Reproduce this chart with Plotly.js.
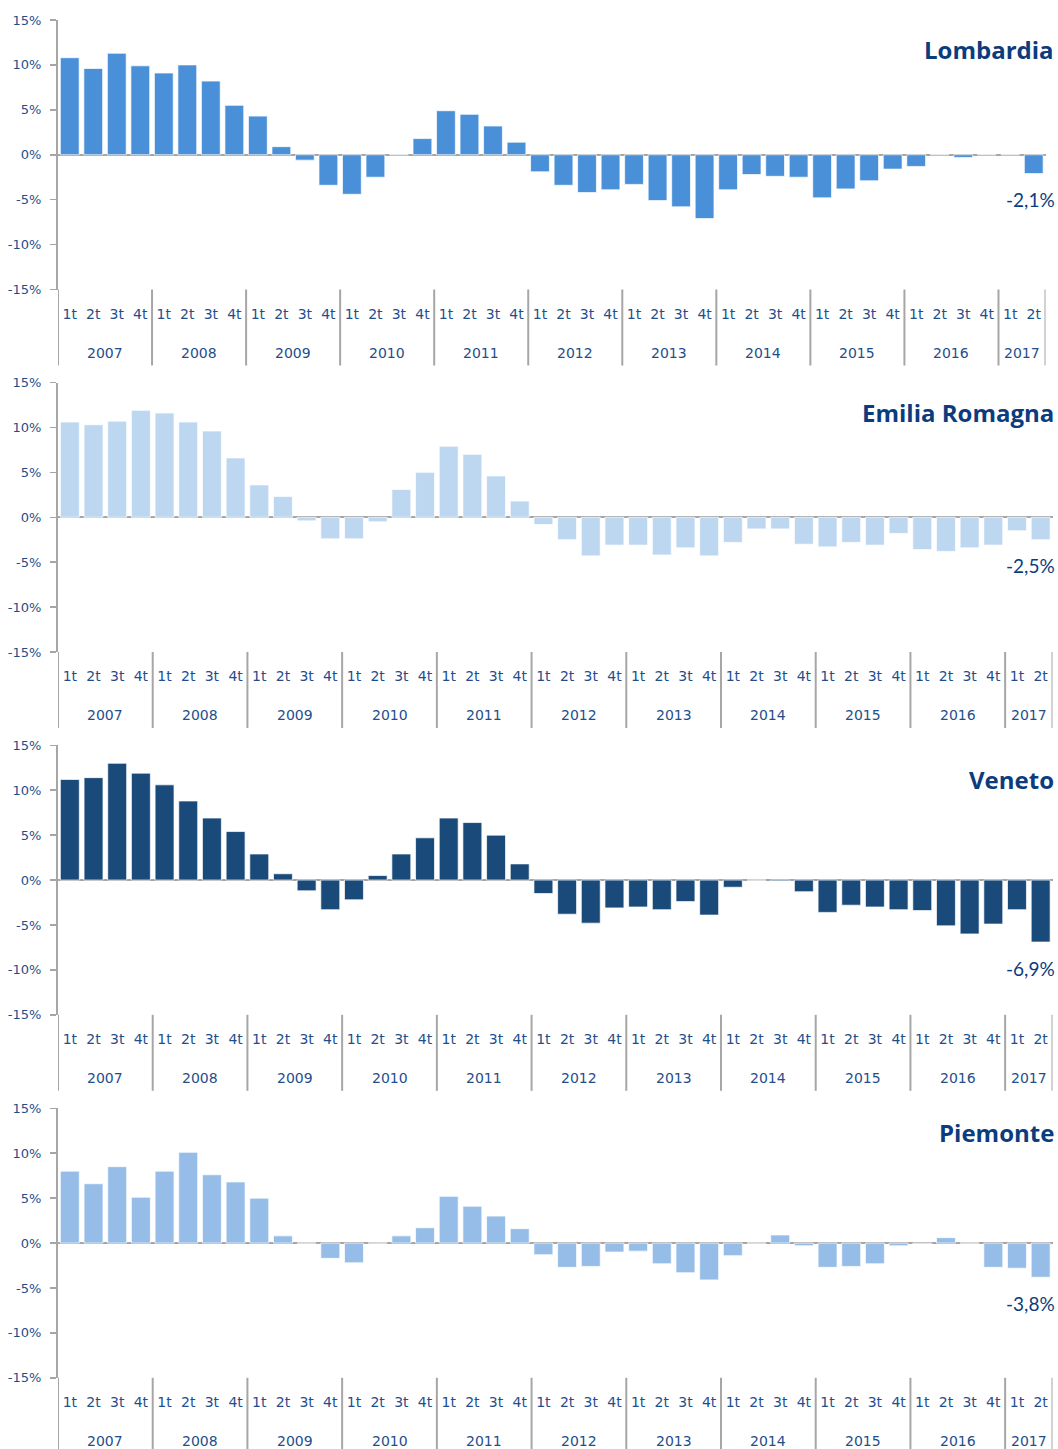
<!DOCTYPE html>
<html>
<head>
<meta charset="utf-8">
<script src="https://cdn.plot.ly/plotly-3.0.1.min.js"></script>
<style>
html, body { margin: 0; padding: 0; background: #ffffff; }
#chart { width: 1058px; height: 1449px; }
</style>
</head>
<body>
<div id="chart"></div>
<script>
// ---------- data ----------
const years = ['2007','2008','2009','2010','2011','2012','2013','2014','2015','2016','2017'];
const quarters = ['1t','2t','3t','4t'];
const regions = ['Lombardia', 'Emilia Romagna', 'Veneto', 'Piemonte'];

const lombardia = [10.8, 9.6, 11.3, 9.9, 9.1, 10.0, 8.2, 5.5, 4.3, 0.9, -0.6, -3.4, -4.4, -2.5, 0.0, 1.8,
  4.9, 4.5, 3.2, 1.4, -1.9, -3.4, -4.2, -3.9, -3.3, -5.1, -5.8, -7.1, -3.9, -2.2, -2.4, -2.5,
  -4.8, -3.8, -2.9, -1.6, -1.3, 0.0, -0.3, 0.0, 0.0, -2.1];
const emiliaRomagna = [10.6, 10.3, 10.7, 11.9, 11.6, 10.6, 9.6, 6.6, 3.6, 2.3, -0.4, -2.4, -2.4, -0.5, 3.1, 5.0,
  7.9, 7.0, 4.6, 1.8, -0.8, -2.5, -4.3, -3.1, -3.1, -4.2, -3.4, -4.3, -2.8, -1.3, -1.3, -3.0,
  -3.3, -2.8, -3.1, -1.8, -3.6, -3.8, -3.4, -3.1, -1.5, -2.5];
const veneto = [11.2, 11.4, 13.0, 11.9, 10.6, 8.8, 6.9, 5.4, 2.9, 0.7, -1.2, -3.3, -2.2, 0.5, 2.9, 4.7,
  6.9, 6.4, 5.0, 1.8, -1.5, -3.8, -4.8, -3.1, -3.0, -3.3, -2.4, -3.9, -0.8, 0.0, -0.1, -1.3,
  -3.6, -2.8, -3.0, -3.3, -3.4, -5.1, -6.0, -4.9, -3.3, -6.9];
const piemonte = [8.0, 6.6, 8.5, 5.1, 8.0, 10.1, 7.6, 6.8, 5.0, 0.8, 0.0, -1.7, -2.2, 0.0, 0.8, 1.7,
  5.2, 4.1, 3.0, 1.6, -1.3, -2.7, -2.6, -1.0, -0.9, -2.3, -3.3, -4.1, -1.4, 0.0, 0.9, -0.3,
  -2.7, -2.6, -2.3, -0.3, -0.1, 0.6, 0.0, -2.7, -2.8, -3.8];

const yTickVals = [-15, -10, -5, 0, 5, 10, 15];
const yTickText = ['-15%', '-10%', '-5%', '0%', '5%', '10%', '15%'];

// ---------- categories ----------
const series = [lombardia, emiliaRomagna, veneto, piemonte];
const nPts = lombardia.length;
const catYear = [], catQuarter = [], catKey = [];
outer:
for (const y of years) {
  for (const q of quarters) {
    if (catKey.length >= nPts) break outer;
    catYear.push(y);
    catQuarter.push(q);
    catKey.push(y + ' ' + q);
  }
}
// year groups: index ranges
const yearGroups = [];
catYear.forEach((y, i) => {
  const g = yearGroups[yearGroups.length - 1];
  if (!g || g.year !== y) yearGroups.push({year: y, first: i, last: i});
  else g.last = i;
});

// ---------- styling / layout ----------
const W = 1058, H = 1449;
const barColors = ['#4A90D9', '#BDD7F1', '#1A4A7A', '#95BDE8'];
const labelColor = '#1F4E8C';
const titleColor = '#0B3C7D';
const axisGray = '#A6A6A6';
const plotTop = [20, 382.5, 745.3, 1108.3];
const plotHeight = 269.5;
const xLeftPx = 58;
const xRightPx = [1045.5, 1052.5, 1052.5, 1052.5];
const titleYPx = [50, 413, 779, 1132];
const yearLabelOffset = 63;
const dividerLen = 76;

const fmt = v => v.toFixed(1).replace('.', ',') + '%';

const traces = [];
const layout = {
  width: W, height: H,
  margin: {l: 0, r: 0, t: 0, b: 0},
  paper_bgcolor: '#ffffff',
  plot_bgcolor: 'rgba(0,0,0,0)',
  showlegend: false,
  bargap: 0.2,
  annotations: [],
  shapes: []
};

series.forEach((vals, i) => {
  const sfx = i === 0 ? '' : String(i + 1);
  const top = plotTop[i], bot = plotTop[i] + plotHeight;
  traces.push({
    type: 'bar',
    x: catKey,
    y: vals,
    xaxis: 'x' + sfx,
    yaxis: 'y' + sfx,
    marker: {color: barColors[i], line: {color: 'rgba(255,255,255,0.7)', width: 1}},
    hoverinfo: 'skip'
  });
  layout['xaxis' + sfx] = {
    domain: [xLeftPx / W, xRightPx[i] / W],
    anchor: 'y' + sfx,
    type: 'category',
    range: [-0.5, nPts - 0.5],
    tickmode: 'array',
    tickvals: catKey,
    ticktext: catQuarter,
    ticks: '',
    ticklabelstandoff: 14,
    showline: false,
    showgrid: false,
    zeroline: false,
    tickfont: {family: 'DejaVu Sans', size: 14, color: labelColor}
  };
  layout['yaxis' + sfx] = {
    domain: [1 - bot / H, 1 - top / H],
    anchor: 'x' + sfx,
    range: [-15, 15],
    tickmode: 'array',
    tickvals: yTickVals,
    ticktext: yTickText,
    ticks: 'outside',
    ticklen: 6,
    tickwidth: 1.5,
    tickcolor: axisGray,
    ticklabelstandoff: 6,
    showline: true,
    linecolor: axisGray,
    linewidth: 2,
    showgrid: false,
    zeroline: true,
    zerolinecolor: axisGray,
    zerolinewidth: 2,
    tickfont: {family: 'DejaVu Sans', size: 13, color: labelColor}
  };
  // year dividers and labels
  const yDivTop = 1 - bot / H, yDivBot = 1 - (bot + dividerLen) / H;
  const bounds = yearGroups.map(g => g.first - 0.5).concat([nPts - 0.5]);
  bounds.forEach(b => {
    layout.shapes.push({
      type: 'line', xref: 'x' + sfx, yref: 'paper',
      x0: b, x1: b, y0: yDivTop, y1: yDivBot,
      line: {color: axisGray, width: 2}
    });
  });
  yearGroups.forEach(g => {
    layout.annotations.push({
      xref: 'x' + sfx, yref: 'paper',
      x: (g.first + g.last) / 2, y: 1 - (bot + yearLabelOffset) / H,
      xanchor: 'center', yanchor: 'middle',
      text: g.year, showarrow: false,
      font: {family: 'DejaVu Sans', size: 14, color: labelColor}
    });
  });
  // panel title
  layout.annotations.push({
    xref: 'paper', yref: 'paper',
    x: 1056 / W, y: 1 - titleYPx[i] / H,
    xanchor: 'right', yanchor: 'middle',
    text: '<b>' + regions[i] + '</b>',
    showarrow: false,
    font: {family: 'Open Sans', size: 24, color: titleColor}
  });
  // last value label
  const last = vals[vals.length - 1];
  layout.annotations.push({
    xref: 'paper', yref: 'y' + sfx,
    x: 1057 / W, y: last,
    yshift: -26,
    xanchor: 'right', yanchor: 'middle',
    text: fmt(last),
    showarrow: false,
    font: {family: 'Lato', size: 19, color: titleColor}
  });
});

Plotly.newPlot('chart', traces, layout, {displayModeBar: false, staticPlot: true});
</script>
</body>
</html>
